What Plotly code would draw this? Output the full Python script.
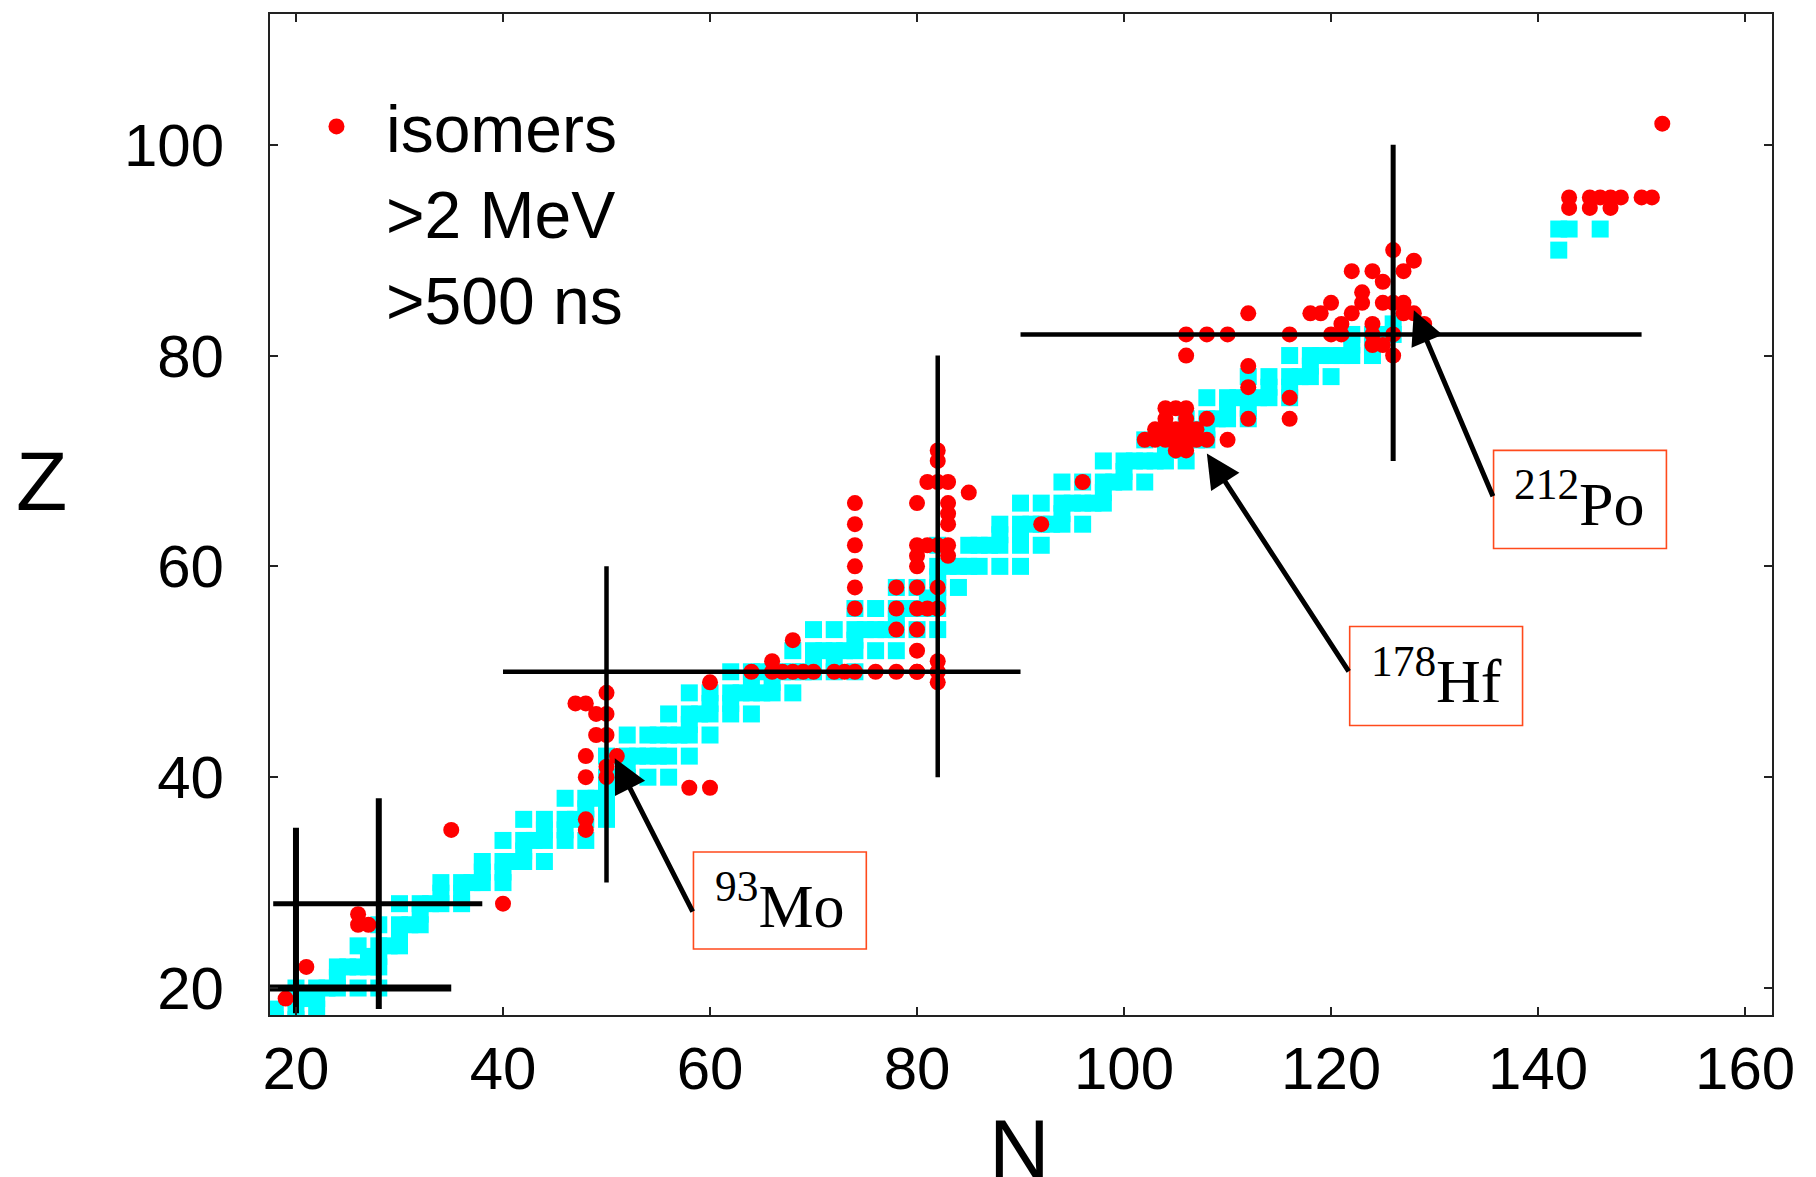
import plotly.graph_objects as go

# ---------------- data ----------------
# stable nuclides (cyan squares)
stable_N = [18, 20,
            18, 20, 22,
            20, 21, 22,
            20, 22, 23, 24, 26, 28,
            24,
            24, 25, 26, 27, 28,
            27, 28,
            26, 28, 29, 30,
            30,
            28, 30, 31, 32,
            32,
            30, 32, 33, 34, 36,
            34, 36,
            34, 36, 37, 38, 40,
            38, 40,
            38, 40, 41, 42, 44,
            42,
            40, 42, 43, 44, 46, 48,
            44, 46,
            42, 44, 46, 47, 48, 50,
            48, 50,
            46, 48, 49, 50,
            50,
            50, 51, 52, 54, 56,
            52,
            50, 52, 53, 54, 55, 56, 58,
            52, 54, 55, 56, 57, 58, 60,
            58,
            56, 58, 59, 60, 62, 64,
            60, 62,
            58, 60, 62, 63, 64, 65, 66, 68,
            64, 66,
            62, 64, 65, 66, 67, 68, 69, 70, 72, 74,
            70, 72,
            68, 70, 71, 72, 73, 74, 76, 78,
            74,
            70, 72, 74, 75, 76, 77, 78, 80, 82,
            78,
            74, 76, 78, 79, 80, 81, 82,
            81, 82,
            78, 80, 82, 84,
            82,
            82, 83, 84, 85, 86, 88, 90,
            82, 85, 86, 87, 88, 90, 92,
            88, 90,
            88, 90, 91, 92, 93, 94, 96,
            94,
            90, 92, 94, 95, 96, 97, 98,
            98,
            94, 96, 98, 99, 100, 102,
            100,
            98, 100, 101, 102, 103, 104, 106,
            104, 105,
            102, 104, 105, 106, 107, 108,
            107, 108,
            106, 108, 109, 110, 112,
            110, 112,
            108, 110, 111, 112, 113, 114, 116,
            114, 116,
            112, 114, 116, 117, 118, 120,
            118,
            116, 118, 119, 120, 121, 122, 124,
            122, 124,
            122, 124, 125, 126,
            126,
            142,
            142, 143, 146]
stable_Z = [17, 17,
            18, 18, 18,
            19, 19, 19,
            20, 20, 20, 20, 20, 20,
            21,
            22, 22, 22, 22, 22,
            23, 23,
            24, 24, 24, 24,
            25,
            26, 26, 26, 26,
            27,
            28, 28, 28, 28, 28,
            29, 29,
            30, 30, 30, 30, 30,
            31, 31,
            32, 32, 32, 32, 32,
            33,
            34, 34, 34, 34, 34, 34,
            35, 35,
            36, 36, 36, 36, 36, 36,
            37, 37,
            38, 38, 38, 38,
            39,
            40, 40, 40, 40, 40,
            41,
            42, 42, 42, 42, 42, 42, 42,
            44, 44, 44, 44, 44, 44, 44,
            45,
            46, 46, 46, 46, 46, 46,
            47, 47,
            48, 48, 48, 48, 48, 48, 48, 48,
            49, 49,
            50, 50, 50, 50, 50, 50, 50, 50, 50, 50,
            51, 51,
            52, 52, 52, 52, 52, 52, 52, 52,
            53,
            54, 54, 54, 54, 54, 54, 54, 54, 54,
            55,
            56, 56, 56, 56, 56, 56, 56,
            57, 57,
            58, 58, 58, 58,
            59,
            60, 60, 60, 60, 60, 60, 60,
            62, 62, 62, 62, 62, 62, 62,
            63, 63,
            64, 64, 64, 64, 64, 64, 64,
            65,
            66, 66, 66, 66, 66, 66, 66,
            67,
            68, 68, 68, 68, 68, 68,
            69,
            70, 70, 70, 70, 70, 70, 70,
            71, 71,
            72, 72, 72, 72, 72, 72,
            73, 73,
            74, 74, 74, 74, 74,
            75, 75,
            76, 76, 76, 76, 76, 76, 76,
            77, 77,
            78, 78, 78, 78, 78, 78,
            79,
            80, 80, 80, 80, 80, 80, 80,
            81, 81,
            82, 82, 82, 82,
            83,
            90,
            92, 92, 92]

# isomers >2 MeV, >500 ns (red circles)
isomer_N = [19, 21, 26, 26, 27, 35, 40,
            48, 48, 48, 48, 50, 50, 51, 49, 50, 49, 50, 47, 48, 50,
            58, 60, 60,
            64, 66, 67, 68, 69, 70, 72, 73, 74, 76, 78, 80, 82,
            66, 68,
            74, 74, 74, 74, 74, 74,
            78, 78, 78,
            80, 80, 80, 80, 80, 80, 80, 80, 80,
            81, 81, 81,
            82, 82, 82, 82, 82, 82, 82, 82,
            83, 83, 83, 83, 83, 83,
            85, 92, 96,
            104, 105, 106, 104, 106, 108, 103, 104, 105, 106, 107,
            102, 103, 104, 105, 106, 107, 108, 110, 105, 106,
            106, 106, 108, 110, 112, 112, 112, 112, 116, 116, 116,
            118, 119, 120, 120, 121, 121, 122, 122, 123, 123,
            124, 124, 124, 124, 125, 125, 125, 126, 126, 126, 126,
            127, 127, 127, 128, 128, 129,
            143, 143, 145, 145, 146, 147, 147, 148, 150, 151, 152]
isomer_Z = [19, 22, 27, 26, 26, 35, 28,
            36, 35, 40, 42, 40, 41, 42, 44, 44, 46, 46, 47, 47, 48,
            39, 39, 49,
            50, 50, 50, 50, 50, 50, 50, 50, 50, 50, 50, 50, 50,
            51, 53,
            56, 58, 60, 62, 64, 66,
            54, 56, 58,
            50, 52, 54, 56, 58, 60, 61, 62, 66,
            56, 62, 68,
            49, 51, 56, 58, 62, 68, 70, 71,
            61, 62, 64, 65, 66, 68,
            67, 64, 68,
            75, 75, 75, 74, 74, 74, 73, 73, 73, 73, 73,
            72, 72, 72, 72, 72, 72, 72, 72, 71, 71,
            80, 82, 82, 82, 84, 79, 77, 74, 82, 76, 74,
            84, 84, 85, 82, 82, 83, 84, 88, 86, 85,
            88, 83, 82, 81, 87, 85, 81, 90, 85, 82, 80,
            88, 85, 84, 89, 84, 83,
            95, 94, 95, 94, 95, 95, 94, 95, 95, 95, 102]

# magic-number lines
hline_Z = [20, 28, 50, 82]
hline_N_from = [17.2, 17.8, 40, 90]
hline_N_to = [35, 38, 90, 150]
vline_N = [20, 28, 50, 82, 126]
vline_Z_from = [17.6, 18, 30, 40, 70]
vline_Z_to = [35.2, 38, 60, 80, 100]

# labelled nuclides
label_text = ["<sup>93</sup>Mo", "<sup>178</sup>Hf", "<sup>212</sup>Po"]
arrow_tip_N = [50.8, 108.0, 128.0]
arrow_tip_Z = [41.8, 70.7, 84.3]
arrow_tail_N = [58.4, 121.8, 135.7]
arrow_tail_Z = [27.1, 49.9, 66.5]
box_N0 = [58.4, 121.8, 135.7]
box_N1 = [75.1, 138.5, 152.4]
box_Z0 = [23.7, 44.9, 61.7]
box_Z1 = [32.9, 54.3, 71.0]

x_ticks = [20, 40, 60, 80, 100, 120, 140, 160]
y_ticks = [20, 40, 60, 80, 100]

# ---------------- styles ----------------
SANS = "Liberation Sans, Arial, sans-serif"
SERIF = "Liberation Serif, Times New Roman, serif"
hline_width = [7, 5, 4.5, 4.5]
vline_width = [6, 6, 4.5, 4.5, 5]

# ---------------- figure ----------------
fig = go.Figure()
fig.add_trace(go.Scatter(
    x=stable_N, y=stable_Z, mode="markers",
    marker=dict(symbol="square", size=17, color="#00FFFF", line=dict(width=0)),
    showlegend=False, hoverinfo="x+y"))
fig.add_trace(go.Scatter(
    x=isomer_N, y=isomer_Z, mode="markers",
    marker=dict(symbol="circle", size=16, color="#FF0000", line=dict(width=0)),
    name="isomers<br>&gt;2 MeV<br>&gt;500 ns", showlegend=True))

for z, n0, n1, w in zip(hline_Z, hline_N_from, hline_N_to, hline_width):
    fig.add_trace(go.Scatter(x=[n0, n1], y=[z, z], mode="lines",
                             line=dict(color="black", width=w),
                             showlegend=False, hoverinfo="skip"))
for n, z0, z1, w in zip(vline_N, vline_Z_from, vline_Z_to, vline_width):
    fig.add_trace(go.Scatter(x=[n, n], y=[z0, z1], mode="lines",
                             line=dict(color="black", width=w),
                             showlegend=False, hoverinfo="skip"))

annotations = []
shapes = []
for i, t in enumerate(label_text):
    shapes.append(dict(type="rect", xref="x", yref="y",
                       x0=box_N0[i], x1=box_N1[i], y0=box_Z0[i], y1=box_Z1[i],
                       line=dict(color="#FF4A1C", width=1.6),
                       fillcolor="white", layer="above"))
    annotations.append(dict(x=(box_N0[i] + box_N1[i]) / 2,
                            y=(box_Z0[i] + box_Z1[i]) / 2,
                            xref="x", yref="y", text=t, showarrow=False,
                            xanchor="center", yanchor="middle",
                            font=dict(family=SERIF, size=62, color="black")))
    annotations.append(dict(x=arrow_tip_N[i], y=arrow_tip_Z[i],
                            ax=arrow_tail_N[i], ay=arrow_tail_Z[i],
                            xref="x", yref="y", axref="x", ayref="y",
                            text="", showarrow=True, arrowhead=2,
                            arrowsize=1.35, arrowwidth=5, arrowcolor="black",
                            standoff=0, startstandoff=0))

# axis titles
annotations.append(dict(x=-0.152, y=0.533, xref="paper", yref="paper",
                        text="Z", showarrow=False, xanchor="center",
                        yanchor="middle",
                        font=dict(family=SANS, size=84, color="black")))
annotations.append(dict(x=0.4987, y=-0.1335, xref="paper", yref="paper",
                        text="N", showarrow=False, xanchor="center",
                        yanchor="middle",
                        font=dict(family=SANS, size=84, color="black")))

axis_common = dict(showgrid=False, zeroline=False, showline=True,
                   linecolor="#222222", linewidth=2, mirror="ticks",
                   ticks="inside", ticklen=8, tickwidth=1.5,
                   tickcolor="#222222",
                   tickfont=dict(family=SANS, size=60, color="black"))

fig.update_layout(
    width=1816, height=1177,
    margin=dict(l=270, r=44, t=14, b=162, pad=0),
    paper_bgcolor="white", plot_bgcolor="white",
    xaxis=dict(range=[17.49, 162.6], tickvals=x_ticks,
               ticklabelstandoff=0, **axis_common),
    yaxis=dict(range=[17.44, 112.4], tickvals=y_ticks,
               ticklabelstandoff=32, **axis_common),
    showlegend=True,
    legend=dict(x=0.0113, y=0.937, xanchor="left", yanchor="top",
                bgcolor="rgba(0,0,0,0)", borderwidth=0,
                font=dict(family=SANS, size=66, color="black"),
                itemwidth=89, valign="top"),
    shapes=shapes,
    annotations=annotations,
)

fig.write_html("out.html", config={"displayModeBar": False},
               post_script="document.body.style.margin='0px';")
